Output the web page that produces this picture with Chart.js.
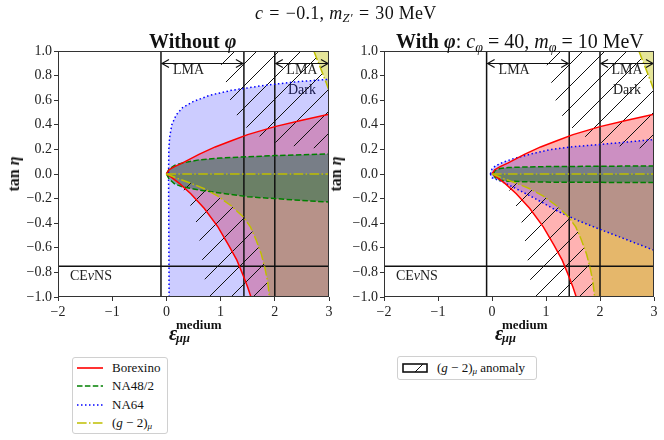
<!DOCTYPE html>
<html>
<head>
<meta charset="utf-8">
<script src="https://cdn.jsdelivr.net/npm/chart.js@4.4.0/dist/chart.umd.min.js"></script>
<style>
  body { margin: 0; width: 664px; height: 440px; background: #fff; position: relative; overflow: hidden;
         font-family: 'Liberation Serif', serif; color: #111; }
  canvas { position: absolute; top: 0; }
  #chartLeft { left: 0; }
  #chartRight { left: 326px; }
  .txt { position: absolute; white-space: nowrap; line-height: 1; }
  .eq { margin: 0 6px; }
  .ylab { position: absolute; font-weight: bold; font-size: 16px; transform: translate(-50%, -50%) rotate(-90deg); white-space: nowrap; }
  .xlab { position: absolute; width: 60px; height: 26px; }
  .xlab span { position: absolute; line-height: 1; font-weight: bold; }
  .legend { position: absolute; border: 1px solid #d0d0d0; border-radius: 3px; background: #fff; font-size: 13px; }
  .legend .row { display: flex; align-items: center; height: 18.3px; white-space: nowrap; }
  .legend svg { margin-right: 9px; flex: none; }
  sub { font-size: 70%; vertical-align: -0.25em; line-height: 0; }
</style>
</head>
<body>
<canvas id="chartLeft" width="336" height="340"></canvas>
<canvas id="chartRight" width="338" height="340"></canvas>

<div class="txt" style="left:255px;top:4px;font-size:18px;letter-spacing:0.3px;"><i>c</i><span class="eq">=</span>−0.1, <i>m</i><sub><i>Z′</i></sub><span class="eq">=</span>30 MeV</div>
<div class="txt" style="left:149px;top:31px;font-size:20px;font-weight:bold;">Without <i>φ</i></div>
<div class="txt" style="left:396px;top:31px;font-size:20px;"><b>With <i>φ</i></b>: <i>c</i><sub><i>φ</i></sub> = 40, <i>m</i><sub><i>φ</i></sub> = 10 MeV</div>

<div class="ylab" style="left:14px;top:174px;">tan <i>η</i></div>
<div class="ylab" style="left:336px;top:174px;">tan <i>η</i></div>

<div class="xlab" style="left:169px;top:318px;"><span style="left:0;top:5px;font-size:20px;font-style:italic;">ε</span><span style="left:7px;top:0;font-size:13px;">medium</span><span style="left:7px;top:14px;font-size:12.5px;font-style:italic;">μμ</span></div>
<div class="xlab" style="left:495px;top:318px;"><span style="left:0;top:5px;font-size:20px;font-style:italic;">ε</span><span style="left:7px;top:0;font-size:13px;">medium</span><span style="left:7px;top:14px;font-size:12.5px;font-style:italic;">μμ</span></div>

<div class="legend" id="legendLeft" style="left:72px;top:357px;width:90px;padding:1px 0 1px 4px;"></div>
<div class="legend" id="legendRight" style="left:397px;top:356px;width:134px;padding:2px 0 2px 4px;"></div>

<script>
// axes
const xRange = [-2, 3];
const yRange = [-1, 1];
const xTicks = [-2, -1, 0, 1, 2, 3];
const yTicks = [-1.0, -0.8, -0.6, -0.4, -0.2, 0.0, 0.2, 0.4, 0.6, 0.8, 1.0];

// reference lines (LMA / LMA-Dark edges, CEvNS bound)
const lmaBounds = [-0.1, 1.43];
const darkBounds = [2.0, 3.0];
const verticalLines = [-0.1, 1.43, 2.0];
const cevnsLevel = -0.75;
const arrowLevel = 0.9;

// Borexino, same in both panels
const borexinoUpper = [[0, 0], [0.05, 0.035], [0.15, 0.06], [0.3, 0.09], [0.6, 0.16], [0.9, 0.22], [1.2, 0.27], [1.5, 0.32], [2.0, 0.385], [2.5, 0.437], [3.0, 0.485]];
const borexinoLower = [[0, 0], [0.1, -0.03], [0.25, -0.08], [0.45, -0.16], [0.7, -0.28], [0.95, -0.43], [1.15, -0.58], [1.3, -0.7], [1.42, -0.83], [1.5, -0.92], [1.56, -1.0]];

// (g-2)mu boundaries
const g2Axis = [[0, 0], [3.0, 0]];
const g2Lower = [[0, 0], [0.2, -0.035], [0.45, -0.075], [0.7, -0.12], [0.95, -0.18], [1.2, -0.26], [1.42, -0.35], [1.55, -0.43], [1.65, -0.53], [1.75, -0.65], [1.82, -0.77], [1.87, -0.88], [1.9, -1.0]];
const g2Upper = [[2.72, 1.0], [2.8, 0.91], [2.88, 0.82], [2.95, 0.74], [3.0, 0.68]];

// (g-2)mu anomaly band edges
const anomalyTopEdge = [[0.95, 1.0], [1.05, 0.82], [1.14, 0.68], [1.2, 0.55], [1.36, 0.43], [1.54, 0.35], [1.82, 0.28], [2.13, 0.24], [2.46, 0.22], [3.0, 0.2]];
const anomalyLowEdge = [[0.1, -0.02], [0.25, -0.08], [0.37, -0.17], [0.49, -0.31], [0.58, -0.44], [0.63, -0.6], [0.68, -0.76], [0.72, -0.9], [0.78, -1.0]];

// NA48/2
const na48UpperLeft = [[0, 0], [0.05, 0.04], [0.15, 0.07], [0.3, 0.09], [0.6, 0.115], [1.0, 0.13], [1.5, 0.14], [2.0, 0.15], [2.5, 0.157], [3.0, 0.163]];
const na48LowerLeft = [[0, 0], [0.05, -0.04], [0.15, -0.08], [0.3, -0.105], [0.6, -0.13], [1.0, -0.155], [1.5, -0.185], [2.0, -0.2], [2.5, -0.215], [3.0, -0.228]];
const na48UpperRight = [[0.02, 0], [0.06, 0.03], [0.15, 0.045], [0.3, 0.052], [0.6, 0.057], [1.0, 0.06], [2.0, 0.063], [3.0, 0.066]];
const na48LowerRight = [[0.02, 0], [0.06, -0.03], [0.15, -0.05], [0.3, -0.058], [0.6, -0.063], [1.0, -0.066], [2.0, -0.068], [3.0, -0.07]];

// NA64
const na64Left = [[0.05, -1.0], [0.045, -0.5], [0.04, 0.0], [0.045, 0.2], [0.06, 0.3], [0.1, 0.4], [0.18, 0.48], [0.3, 0.54], [0.5, 0.59], [0.8, 0.64], [1.2, 0.68], [1.8, 0.72], [2.4, 0.75], [3.0, 0.77]];
const na64UpperRight = [[-0.03, 0], [0.0, 0.04], [0.06, 0.065], [0.2, 0.095], [0.4, 0.125], [0.77, 0.168], [1.1, 0.2], [1.45, 0.22], [2.0, 0.24], [2.5, 0.26], [3.0, 0.28]];
const na64LowerRight = [[-0.03, 0], [0.0, -0.03], [0.2, -0.065], [0.45, -0.12], [0.8, -0.2], [1.25, -0.31], [1.6, -0.38], [2.0, -0.45], [2.5, -0.535], [3.0, -0.62]];

const serif = "'Liberation Serif', serif";
Chart.defaults.font.family = serif;

const xy = pts => pts.map(p => ({ x: p[0], y: p[1] }));
const closed = pts => pts.concat([pts[0]]);
const rev = pts => pts.slice().reverse();
const xMax = xRange[1], yMin = yRange[0], yMax = yRange[1];

function makeHatch(size) {
    const c = document.createElement('canvas');
    c.width = size; c.height = size;
    const g = c.getContext('2d');
    g.strokeStyle = '#111';
    g.lineWidth = 1;
    g.beginPath();
    g.moveTo(-1, size + 1); g.lineTo(size + 1, -1);
    g.moveTo(-2, 2); g.lineTo(2, -2);
    g.moveTo(size - 2, size + 2); g.lineTo(size + 2, size - 2);
    g.stroke();
    return g.createPattern(c, 'repeat');
}

function region(points, color, order) {
    return { data: xy(closed(points)), fill: 'shape', backgroundColor: color,
             borderColor: 'rgba(0,0,0,0)', borderWidth: 0, pointRadius: 0, order: order };
}

function curve(points, color, dash, order, label, legendHtml) {
    return { label: label, legendHtml: legendHtml, data: xy(points), fill: false, borderColor: color,
             borderWidth: 1.5, borderDash: dash, borderCapStyle: 'butt', pointRadius: 0, order: order };
}

function referenceLines() {
    const sets = verticalLines.map(v => ({ data: [{ x: v, y: yMin }, { x: v, y: yMax }] }));
    sets.push({ data: [{ x: xRange[0], y: cevnsLevel }, { x: xMax, y: cevnsLevel }] });
    return sets.map(s => Object.assign(s, { borderColor: '#111', borderWidth: 1.5, pointRadius: 0, fill: false, order: 5 }));
}

function buildDatasets(side, hatch) {
    const left = side === 'left';
    const na48Up = left ? na48UpperLeft : na48UpperRight;
    const na48Lo = left ? na48LowerLeft : na48LowerRight;
    const sets = [
        region([...borexinoUpper, [xMax, yMin], ...rev(borexinoLower)], 'rgba(255,0,0,0.3)', 20),
        region([...g2Axis, [xMax, yMin], ...rev(g2Lower)], 'rgba(191,191,0,0.4)', 19),
        region([...g2Upper, [xMax, yMax]], 'rgba(191,191,0,0.4)', 19),
        region([...na48Up, ...rev(na48Lo)], 'rgba(0,128,0,0.41)', 18),
        left ? region([...na64Left, [xMax, yMin]], 'rgba(0,0,255,0.2)', 17)
             : region([...na64UpperRight, ...rev(na64LowerRight)], 'rgba(0,0,255,0.2)', 17),
        region([...anomalyTopEdge, ...rev(g2Upper)], hatch, 16),
        region([[0, 0], ...anomalyLowEdge, ...rev(g2Lower)], hatch, 16),
        ...referenceLines(),
        curve(borexinoUpper, '#ff0000', [], 4, 'Borexino', 'Borexino'),
        curve(borexinoLower, '#ff0000', [], 4),
        curve(na48Up, '#008000', [5.5, 2.4], 4, 'NA48/2', 'NA48/2'),
        curve(na48Lo, '#008000', [5.5, 2.4], 4),
    ];
    if (left) {
        sets.push(curve(na64Left, '#0000ff', [1.5, 2.5], 4, 'NA64', 'NA64'));
    } else {
        sets.push(curve(na64UpperRight, '#0000ff', [1.5, 2.5], 4, 'NA64', 'NA64'));
        sets.push(curve(na64LowerRight, '#0000ff', [1.5, 2.5], 4));
    }
    sets.push(curve(g2Axis, '#bfbf00', [9.6, 2.4, 1.5, 2.4], 3, '(g − 2)μ', '(<i>g</i> − 2)<sub><i>μ</i></sub>'));
    sets.push(curve(g2Lower, '#bfbf00', [9.6, 2.4, 1.5, 2.4], 3));
    sets.push(curve(g2Upper, '#bfbf00', [9.6, 2.4, 1.5, 2.4], 3));
    return sets;
}

// frame around the axes
const framePlugin = {
    id: 'frame',
    afterDraw(chart) {
        const { ctx, chartArea: a } = chart;
        ctx.save();
        ctx.strokeStyle = '#333';
        ctx.lineWidth = 1;
        ctx.strokeRect(Math.round(a.left) + 0.5, Math.round(a.top) + 0.5,
                       Math.round(a.right - a.left) - 1, Math.round(a.bottom - a.top) - 1);
        ctx.restore();
    }
};

// LMA / Dark labels, CEvNS label and arrows
const notesPlugin = {
    id: 'notes',
    beforeDatasetsDraw(chart) {
        const { ctx, scales: { x, y } } = chart;
        ctx.save();
        ctx.fillStyle = '#222';
        ctx.font = '14px ' + serif;
        ctx.textAlign = 'center';
        ctx.textBaseline = 'middle';
        ctx.fillText('LMA', x.getPixelForValue(0.41), y.getPixelForValue(0.84));
        ctx.fillText('LMA', x.getPixelForValue(2.5), y.getPixelForValue(0.84));
        ctx.fillText('Dark', x.getPixelForValue(2.5), y.getPixelForValue(0.68));
        // CEvNS with italic nu
        let px = x.getPixelForValue(-1.78);
        const py = y.getPixelForValue(-0.83);
        ctx.textAlign = 'left';
        [['CE', ''], ['ν', 'italic '], ['NS', '']].forEach(([t, st]) => {
            ctx.font = st + '14px ' + serif;
            ctx.fillText(t, px, py);
            px += ctx.measureText(t).width;
        });
        ctx.restore();
    },
    afterDatasetsDraw(chart) {
        const { ctx, scales: { x, y } } = chart;
        const py = Math.round(y.getPixelForValue(arrowLevel)) + 0.5;
        ctx.save();
        ctx.strokeStyle = '#111';
        ctx.lineWidth = 1.2;
        [lmaBounds, darkBounds].forEach(([a, b]) => {
            const x0 = x.getPixelForValue(a) + 1, x1 = x.getPixelForValue(b) - 1;
            ctx.beginPath();
            ctx.moveTo(x0, py); ctx.lineTo(x1, py);
            ctx.moveTo(x0 + 7, py - 4); ctx.lineTo(x0, py); ctx.lineTo(x0 + 7, py + 4);
            ctx.moveTo(x1 - 7, py - 4); ctx.lineTo(x1, py); ctx.lineTo(x1 - 7, py + 4);
            ctx.stroke();
        });
        ctx.restore();
    }
};

const fmtMinus = s => s.replace('-', '\u2212');

function makeChart(id, side, padRight) {
    const canvas = document.getElementById(id);
    const hatch = makeHatch(22);
    return new Chart(canvas.getContext('2d'), {
        type: 'line',
        data: { datasets: buildDatasets(side, hatch) },
        plugins: [framePlugin, notesPlugin],
        options: {
            responsive: false,
            animation: false,
            events: [],
            layout: { padding: { left: 0, top: 51, right: padRight, bottom: 19 } },
            elements: { line: { tension: 0 }, point: { radius: 0 } },
            plugins: { legend: { display: false }, tooltip: { enabled: false } },
            scales: {
                x: {
                    type: 'linear', min: xRange[0], max: xRange[1],
                    afterBuildTicks: s => { s.ticks = xTicks.map(v => ({ value: v })); },
                    afterFit: s => { s.height = 24; },
                    border: { display: false },
                    grid: { drawOnChartArea: false, drawTicks: true, tickLength: 4, color: '#333' },
                    ticks: { color: '#222', padding: 3, font: { size: 14 }, maxRotation: 0,
                             callback: v => fmtMinus(String(v)) }
                },
                y: {
                    type: 'linear', min: yRange[0], max: yRange[1],
                    afterBuildTicks: s => { s.ticks = yTicks.map(v => ({ value: v })); },
                    afterFit: s => { s.width = 58; },
                    border: { display: false },
                    grid: { drawOnChartArea: false, drawTicks: true, tickLength: 4, color: '#333' },
                    ticks: { color: '#222', padding: 2, font: { size: 14 },
                             callback: v => fmtMinus(Number(v).toFixed(1)) }
                }
            }
        }
    });
}

const leftChart = makeChart('chartLeft', 'left', 7);
const rightChart = makeChart('chartRight', 'right', 10);

// legends built from the chart datasets
function swatchFor(ds) {
    const dash = (ds.borderDash || []).join(',');
    return `<svg width="26" height="10"><line x1="0" y1="5" x2="26" y2="5" stroke="${ds.borderColor}" stroke-width="1.6" ${dash ? `stroke-dasharray="${dash}"` : ''}/></svg>`;
}
const legendLeft = document.getElementById('legendLeft');
leftChart.data.datasets.filter(ds => ds.label).forEach(ds => {
    const row = document.createElement('div');
    row.className = 'row';
    row.innerHTML = swatchFor(ds) + '<span>' + ds.legendHtml + '</span>';
    legendLeft.appendChild(row);
});
document.getElementById('legendRight').innerHTML =
    '<div class="row"><svg width="26" height="10"><defs><pattern id="hp" width="22" height="22" patternUnits="userSpaceOnUse">' +
    '<path d="M0,22 L22,0" stroke="#111" stroke-width="1"/></pattern></defs>' +
    '<rect x="1" y="1" width="24" height="8" fill="url(#hp)" stroke="#111" stroke-width="1.6"/></svg>' +
    '<span>(<i>g</i> − 2)<sub><i>μ</i></sub> anomaly</span></div>';
</script>
</body>
</html>
